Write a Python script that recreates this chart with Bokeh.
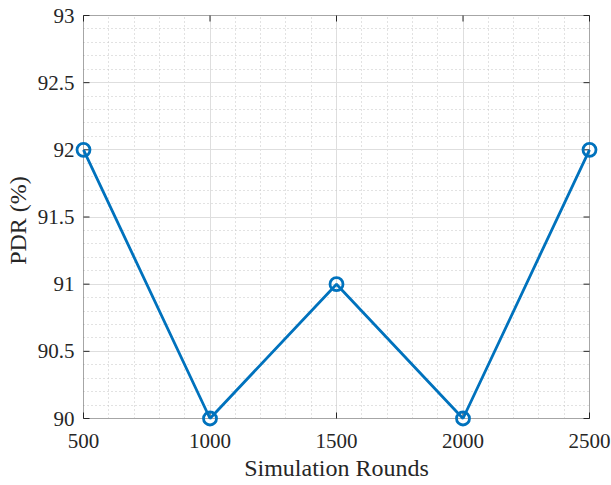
import math
from bokeh.plotting import figure
from bokeh.models import Range1d, LinearAxis, FixedTicker, Grid, BoxAnnotation
from bokeh.embed import file_html
from bokeh.resources import INLINE

rounds = [500, 1000, 1500, 2000, 2500]
pdr = [92, 90, 91, 90, 92]
x_ticks = [500, 1000, 1500, 2000, 2500]
y_ticks = [90, 90.5, 91, 91.5, 92, 92.5, 93]
x_minor = list(range(500, 2501, 100))
y_minor = [round(90 + 0.1 * i, 1) for i in range(31)]

X0, X1 = 500, 2500
Y0, Y1 = 90, 93

FONT = "Liberation Serif"
AX = "#262626"
BLUE = "#0072BD"

# box geometry in pixels; the frame is padded so edge markers are not clipped
BOX_L, BOX_T, BOX_W, BOX_H = 83, 15, 506, 403
PAD_X, PAD_T, PAD_B = 9, 2, 9
ppx = BOX_W / (X1 - X0)
ppy = BOX_H / (Y1 - Y0)

p = figure(width=611, height=485, output_backend="svg", toolbar_location=None,
           x_range=Range1d(X0 - PAD_X / ppx, X1 + PAD_X / ppx),
           y_range=Range1d(Y0 - PAD_B / ppy, Y1 + PAD_T / ppy),
           min_border_left=BOX_L - PAD_X,
           min_border_right=611 - BOX_L - BOX_W - PAD_X,
           min_border_top=BOX_T - PAD_T,
           min_border_bottom=485 - BOX_T - BOX_H - PAD_B,
           x_axis_type=None, y_axis_type=None)
p.outline_line_color = None
p.background_fill_color = "white"
p.border_fill_color = "white"

def style(ax):
    ax.axis_line_color = None
    ax.major_tick_line_color = None
    ax.minor_tick_line_color = None
    ax.major_tick_in = 0
    ax.major_tick_out = 0
    ax.minor_tick_in = 0
    ax.minor_tick_out = 0
    ax.major_label_text_font = FONT
    ax.major_label_text_font_style = "normal"
    ax.major_label_text_color = AX
    ax.major_label_text_font_size = "21px"
    ax.axis_label_text_font = FONT
    ax.axis_label_text_font_style = "normal"
    ax.axis_label_text_font_size = "24px"
    ax.axis_label_text_color = AX

xt = FixedTicker(ticks=x_ticks, minor_ticks=x_minor)
yt = FixedTicker(ticks=y_ticks, minor_ticks=y_minor)

xb = LinearAxis(ticker=xt, axis_label="Simulation Rounds")
style(xb)
xb.major_label_standoff = 15 - PAD_B
xb.axis_label_standoff = 4
p.add_layout(xb, "below")

yl = LinearAxis(ticker=yt, axis_label="PDR (%)")
style(yl)
yl.major_label_standoff = 9 - PAD_X
yl.axis_label_standoff = 4
p.add_layout(yl, "left")

gx = Grid(dimension=0, ticker=xt, bounds=(X0, X1), cross_bounds=(Y0, Y1))
gy = Grid(dimension=1, ticker=yt, bounds=(Y0, Y1), cross_bounds=(X0, X1))
for g in (gx, gy):
    g.grid_line_color = "#dedede"
    g.grid_line_width = 1
    g.minor_grid_line_color = "#c4c4c4"
    g.minor_grid_line_dash = "1 3"
    g.minor_grid_line_width = 1
    p.add_layout(g)

# axes box and inward ticks (MATLAB style, box on)
box = BoxAnnotation(left=X0, right=X1, bottom=Y0, top=Y1, fill_color=None,
                    line_color=AX, line_width=1, level="underlay")
p.add_layout(box)
TL = 6
p.ray(x=x_ticks, y=[Y0] * len(x_ticks), length=TL, length_units="screen",
      angle=math.pi / 2, line_color=AX, line_width=1)
p.ray(x=x_ticks, y=[Y1] * len(x_ticks), length=TL, length_units="screen",
      angle=-math.pi / 2, line_color=AX, line_width=1)
p.ray(x=[X0] * len(y_ticks), y=y_ticks, length=TL, length_units="screen",
      angle=0, line_color=AX, line_width=1)
p.ray(x=[X1] * len(y_ticks), y=y_ticks, length=TL, length_units="screen",
      angle=math.pi, line_color=AX, line_width=1)

p.line(rounds, pdr, line_color=BLUE, line_width=2.8)
p.scatter(rounds, pdr, marker="circle", size=13, fill_color=None,
          line_color=BLUE, line_width=2.8)

open("out.html", "w").write(file_html(p, INLINE))
